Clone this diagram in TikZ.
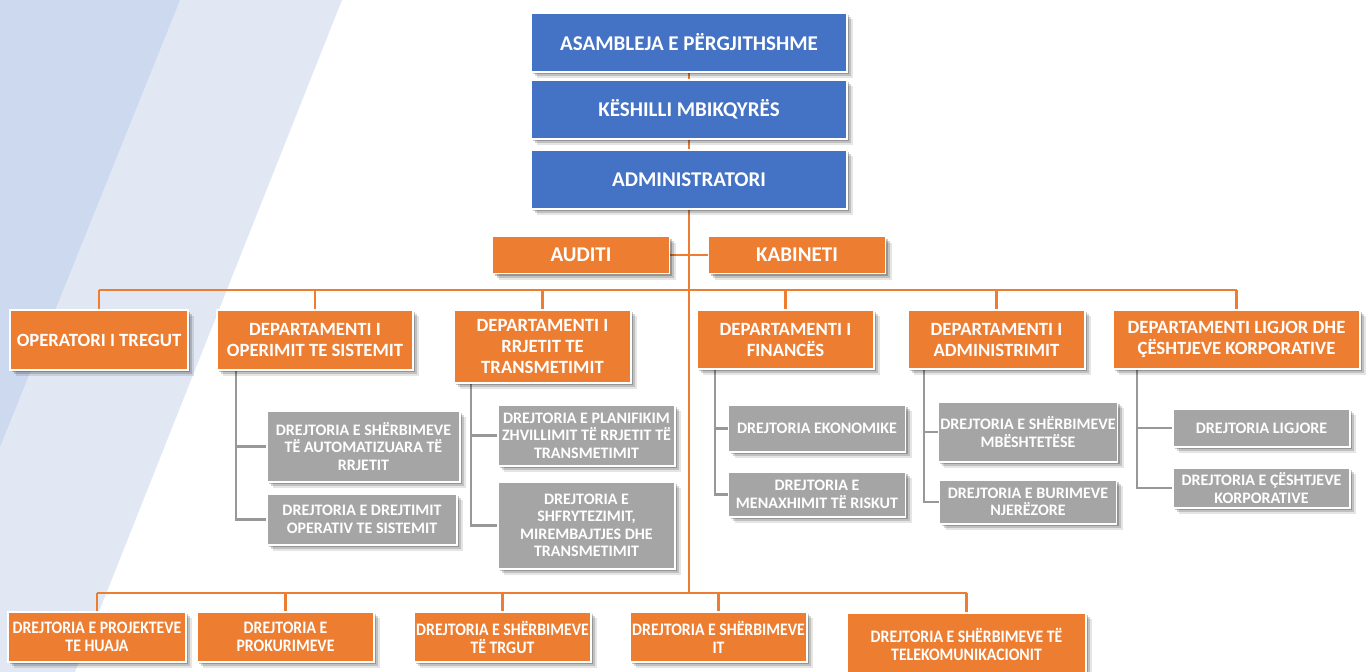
\documentclass[tikz,border=0pt]{standalone}
\usepackage{fontspec}
\setmainfont{Carlito}
\newfontfamily\narrowfont[FakeStretch=0.9]{Carlito}
\usetikzlibrary{shadows}

\definecolor{boardblue}{HTML}{4472C4}
\definecolor{deptorange}{HTML}{ED7D31}
\definecolor{dirgray}{HTML}{A5A5A5}
\definecolor{stripedark}{HTML}{CDD9EF}
\definecolor{stripelight}{HTML}{E1E8F4}

\pgfdeclarelayer{bg}
\pgfdeclarelayer{wires}
\pgfsetlayers{bg,wires,main}

\tikzset{
  softshadow/.style={
    drop shadow={shadow xshift=2pt, shadow yshift=-2pt, opacity=0.22, fill=black},
    drop shadow={shadow xshift=4pt, shadow yshift=-4pt, opacity=0.16, fill=black},
    drop shadow={shadow xshift=6pt, shadow yshift=-6pt, opacity=0.10, fill=black}},
  box/.style={draw=white, line width=1.6pt, text=white, align=center, inner sep=2pt, softshadow},
  bluebox/.style={box, fill=boardblue, minimum width=316, minimum height=59,
    font=\bfseries\fontsize{21}{24}\selectfont},
  staffbox/.style={box, fill=deptorange, minimum width=177, minimum height=37,
    font=\bfseries\fontsize{21}{24}\selectfont},
  deptbox/.style={box, fill=deptorange, minimum width=177, minimum height=60,
    font=\bfseries\fontsize{18.7}{21}\selectfont},
  dirbox/.style={box, fill=dirgray, minimum width=177, minimum height=45,
    font=\bfseries\fontsize{16}{17.5}\selectfont},
  unitbox/.style={box, fill=deptorange, minimum width=177, minimum height=50,
    font=\narrowfont\bfseries\fontsize{17.5}{18}\selectfont},
  orangewire/.style={draw=deptorange, line width=2.6pt},
  graywire/.style={draw=dirgray!92!black, line width=2.6pt}
}

\begin{document}
\begin{tikzpicture}[x=1pt, y=-1pt]
    \useasboundingbox (0,0) rectangle (1366,672);

    \begin{pgfonlayer}{bg}
        \fill[white] (0,0) rectangle (1366,672);
        \fill[stripelight] (0,0) -- (342,0) -- (75,672) -- (0,672) -- cycle;
        \fill[stripedark] (0,0) -- (180,0) -- (0,447) -- cycle;
    \end{pgfonlayer}

    \node[bluebox] (asambleja) at (689,42.5) {ASAMBLEJA E PËRGJITHSHME};
    \node[bluebox] (keshilli) at (689,109.5) {KËSHILLI MBIKQYRËS};
    \node[bluebox] (administratori) at (689,179.5) {ADMINISTRATORI};

    \node[staffbox] (auditi) at (581,255) {AUDITI};
    \node[staffbox] (kabineti) at (797,255) {KABINETI};

    \node[deptbox, minimum width=178] (tregu) at (99,340) {OPERATORI I TREGUT};
    \node[deptbox, minimum width=196] (operimi) at (315,340) {DEPARTAMENTI I\\OPERIMIT TE SISTEMIT};
    \node[deptbox, minimum height=73] (rrjeti) at (542.5,346.5) {DEPARTAMENTI I\\RRJETIT TE\\TRANSMETIMIT};
    \node[deptbox, minimum height=59] (financat) at (785.5,339.5) {DEPARTAMENTI I\\FINANCËS};
    \node[deptbox, minimum height=59] (administrimi) at (996.5,339.5) {DEPARTAMENTI I\\ADMINISTRIMIT};
    \node[deptbox, minimum width=247, minimum height=59] (ligjor) at (1236.5,339.5) {DEPARTAMENTI LIGJOR DHE\\ÇËSHTJEVE KORPORATIVE};

    \node[dirbox, minimum width=193, minimum height=71] (automatizuara) at (363.5,446.5) {DREJTORIA E SHËRBIMEVE\\TË AUTOMATIZUARA TË\\RRJETIT};
    \node[dirbox, minimum width=190, minimum height=51] (drejtimi) at (362,519.5) {DREJTORIA E DREJTIMIT\\OPERATIV TE SISTEMIT};
    \node[dirbox, minimum height=61] (planifikimi) at (586.5,435.5) {DREJTORIA E PLANIFIKIM\\ZHVILLIMIT TË RRJETIT TË\\TRANSMETIMIT};
    \node[dirbox, minimum height=87] (shfrytezimi) at (586.5,525.5) {DREJTORIA E\\SHFRYTEZIMIT,\\MIREMBAJTJES DHE\\TRANSMETIMIT};
    \node[dirbox, minimum height=47] (ekonomike) at (817,428.5) {DREJTORIA EKONOMIKE};
    \node[dirbox] (riskut) at (817,494.5) {DREJTORIA E\\MENAXHIMIT TË RISKUT};
    \node[dirbox, minimum height=60] (mbeshtetese) at (1028,432) {DREJTORIA E SHËRBIMEVE\\MBËSHTETËSE};
    \node[dirbox, minimum height=44] (burimet) at (1028,502) {DREJTORIA E BURIMEVE\\NJERËZORE};
    \node[dirbox, minimum height=38] (ligjore) at (1261.5,428) {DREJTORIA LIGJORE};
    \node[dirbox, minimum height=40] (korporative) at (1261.5,488) {DREJTORIA E ÇËSHTJEVE\\KORPORATIVE};

    \node[unitbox, minimum width=178] (projektet) at (97,637) {DREJTORIA E PROJEKTEVE\\TE HUAJA};
    \node[unitbox] (prokurimet) at (285.5,637) {DREJTORIA E\\PROKURIMEVE};
    \node[unitbox] (trgu) at (502.5,637) {DREJTORIA E SHËRBIMEVE\\TË TRGUT};
    \node[unitbox] (it) at (718.5,637) {DREJTORIA E SHËRBIMEVE\\IT};
    \node[unitbox, minimum width=239, minimum height=62] (telekom) at (966.5,644) {DREJTORIA E SHËRBIMEVE TË\\TELEKOMUNIKACIONIT};

    \coordinate (topbus) at (689,290);
    \coordinate (lowbus) at (689,593);
    \coordinate (opstem) at (236,370);
    \coordinate (rrstem) at (471,383);
    \coordinate (fistem) at (715,369);
    \coordinate (adstem) at (924,369);
    \coordinate (listem) at (1137,369);

    \begin{pgfonlayer}{wires}
        \draw[orangewire] (asambleja) -- (keshilli) -- (administratori) -- (lowbus);
        \draw[orangewire] (auditi) -- (kabineti);
        \draw[orangewire] (tregu.north |- topbus) -- (ligjor.north |- topbus);
        \foreach \d in {tregu,operimi,rrjeti,financat,administrimi,ligjor}
            \draw[orangewire] (\d.north |- topbus) -- (\d.north);
        \draw[orangewire] (projektet.north |- lowbus) -- (telekom.north |- lowbus);
        \foreach \d in {projektet,prokurimet,trgu,it,telekom}
            \draw[orangewire] (\d.north |- lowbus) -- (\d.north);
        \foreach \s/\a/\b in {opstem/automatizuara/drejtimi, rrstem/planifikimi/shfrytezimi,
                fistem/ekonomike/riskut, adstem/mbeshtetese/burimet, listem/ligjore/korporative} {
            \draw[graywire] (\s) |- (\a.west);
            \draw[graywire] (\s) |- (\b.west);
        }
    \end{pgfonlayer}
\end{tikzpicture}
\end{document}
